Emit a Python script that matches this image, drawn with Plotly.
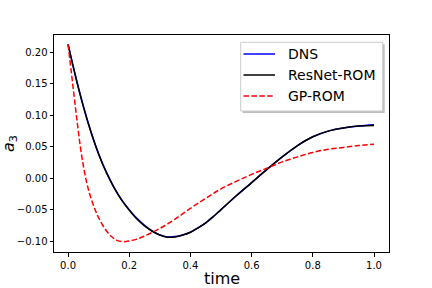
import plotly.graph_objects as go

# ---- data ----
t_rom = [0.0, 0.025, 0.05, 0.075, 0.1, 0.125, 0.15, 0.175, 0.2, 0.225, 0.25, 0.275,
         0.3, 0.325, 0.35, 0.375, 0.4, 0.425, 0.45, 0.475, 0.5, 0.55, 0.6, 0.65,
         0.7, 0.75, 0.8, 0.85, 0.9, 0.95, 1.0]
dns = [0.213, 0.162, 0.115, 0.074, 0.039, 0.010, -0.014, -0.034, -0.050, -0.064,
       -0.075, -0.084, -0.0905, -0.0935, -0.093, -0.0905, -0.086, -0.079, -0.071,
       -0.061, -0.050, -0.028, -0.007, 0.014, 0.034, 0.052, 0.066, 0.075, 0.080,
       0.083, 0.085]
resnet = [0.213, 0.161, 0.114, 0.073, 0.038, 0.009, -0.015, -0.035, -0.051, -0.065,
          -0.076, -0.0845, -0.0905, -0.094, -0.0935, -0.0905, -0.086, -0.079, -0.071,
          -0.061, -0.050, -0.028, -0.007, 0.014, 0.034, 0.052, 0.066, 0.075, 0.080,
          0.083, 0.084]

t_gp = [0.0, 0.01, 0.02, 0.03, 0.04, 0.05, 0.06, 0.07, 0.08, 0.09, 0.1, 0.12, 0.14,
        0.16, 0.18, 0.2, 0.225, 0.25, 0.3, 0.35, 0.4, 0.45, 0.5, 0.55, 0.6, 0.65,
        0.7, 0.75, 0.8, 0.85, 0.9, 0.95, 1.0]
gp = [0.213, 0.172, 0.130, 0.089, 0.051, 0.020, -0.005, -0.024, -0.039, -0.052,
      -0.063, -0.080, -0.092, -0.099, -0.101, -0.100, -0.097, -0.092, -0.080,
      -0.065, -0.048, -0.032, -0.017, -0.005, 0.006, 0.016, 0.026, 0.034, 0.041,
      0.046, 0.049, 0.052, 0.054]

series_names = ["DNS", "ResNet-ROM", "GP-ROM"]
series_colors = ["blue", "black", "red"]
series_dash = ["solid", "solid", "5.5px,2.4px"]

x_ticks = [0.0, 0.2, 0.4, 0.6, 0.8, 1.0]
x_tick_labels = ["0.0", "0.2", "0.4", "0.6", "0.8", "1.0"]
y_ticks = [-0.10, -0.05, 0.00, 0.05, 0.10, 0.15, 0.20]
y_tick_labels = ["\u22120.10", "\u22120.05", "0.00", "0.05", "0.10", "0.15", "0.20"]

FONT = "DejaVu Sans"
W, H = 432, 288
ML, MR, MT, MB = 54, 43, 35, 36
PW, PH = W - ML - MR, H - MT - MB


def px(xp):
    return (xp - ML) / PW


def py(yp):
    return (H - MB - yp) / PH


fig = go.Figure()
for xs, ys, name, col, dash in zip([t_rom, t_rom, t_gp], [dns, resnet, gp],
                                   series_names, series_colors, series_dash):
    fig.add_trace(go.Scatter(x=xs, y=ys, mode="lines", name=name, showlegend=False,
                             line=dict(color=col, width=1.5, shape="spline",
                                       dash=dash)))

axis_common = dict(showline=True, linecolor="black", linewidth=1, mirror=True,
                   ticks="outside", ticklen=3.5, tickwidth=0.8, tickcolor="black",
                   showgrid=False, zeroline=False,
                   tickfont=dict(family=FONT, size=10, color="black"))

fig.update_xaxes(range=[-0.0459, 1.049], tickvals=x_ticks, ticktext=x_tick_labels,
                 **axis_common)
fig.update_yaxes(range=[-0.1175, 0.228], tickvals=y_ticks, ticktext=y_tick_labels,
                 **axis_common)

fig.add_annotation(text="time", xref="paper", yref="paper", x=0.5, y=py(278.5),
                   xanchor="center", yanchor="middle", showarrow=False,
                   font=dict(family=FONT, size=16, color="black"))
fig.add_annotation(text="<i>a</i><sub>3</sub>", xref="paper", yref="paper",
                   x=px(9.5), y=0.5, xanchor="center", yanchor="middle",
                   textangle=-90, showarrow=False, borderpad=0,
                   font=dict(family=FONT, size=16, color="black"))

# ---- legend box (matplotlib style with shadow) ----
bx0, bx1, by0, by1 = 240.7, 382.7, 42.3, 111.0
fig.add_shape(type="rect", xref="paper", yref="paper",
              x0=px(bx0 + 2), x1=px(bx1 + 2), y0=py(by1 + 2), y1=py(by0 + 2),
              fillcolor="rgba(128,128,128,0.5)", line=dict(width=0), layer="above")
fig.add_shape(type="rect", xref="paper", yref="paper",
              x0=px(bx0), x1=px(bx1), y0=py(by1), y1=py(by0),
              fillcolor="white", line=dict(color="#cccccc", width=1), layer="above")
row_y = [54, 75, 96]
for name, col, dash, ry in zip(series_names, series_colors, series_dash, row_y):
    fig.add_shape(type="line", xref="paper", yref="paper",
                  x0=px(243.5), x1=px(275), y0=py(ry), y1=py(ry),
                  line=dict(color=col, width=1.5, dash=dash), layer="above")
    fig.add_annotation(text=name, xref="paper", yref="paper", x=px(286), y=py(ry),
                       xanchor="left", yanchor="middle", showarrow=False,
                       font=dict(family=FONT, size=14, color="black"))

fig.update_layout(
    width=W, height=H,
    margin=dict(l=ML, r=MR, t=MT, b=MB),
    paper_bgcolor="white", plot_bgcolor="white",
    font=dict(family=FONT, color="black"),
    showlegend=False,
)

fig.write_html("out.html", config={"displayModeBar": False},
               post_script="document.body.style.margin='0';")
